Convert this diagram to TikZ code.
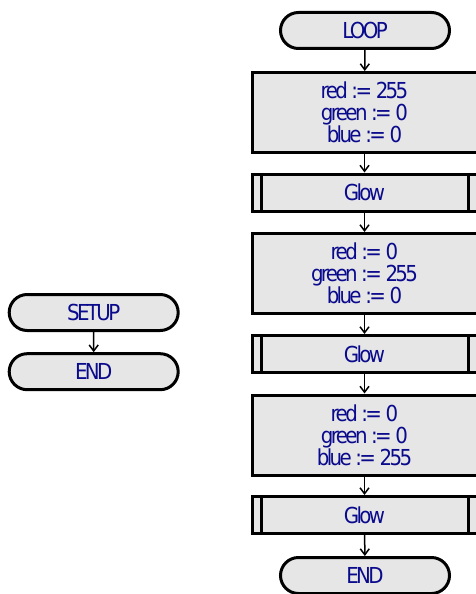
\documentclass[tikz,border=0pt]{standalone}
\usepackage{fontspec}
\setmainfont{DejaVu Sans Condensed}[LetterSpace=-12]
\usetikzlibrary{shapes.misc,arrows.meta}
\definecolor{txtblue}{RGB}{10,10,140}
\definecolor{boxfill}{RGB}{230,230,230}
\tikzset{
  every node/.style={font=\fontsize{22}{22}\selectfont, text=txtblue},
  terminal/.style={rounded rectangle, draw=black, line width=3pt, fill=boxfill,
    minimum width=169pt, minimum height=36pt, inner sep=0pt},
  process/.style={rectangle, draw=black, line width=3pt, fill=boxfill,
    minimum width=225pt, minimum height=80pt, inner sep=0pt, align=center},
  subproc/.style={rectangle, draw=black, line width=3pt, fill=boxfill,
    minimum width=225pt, minimum height=37pt, inner sep=0pt},
  flow/.style={line width=1.5pt, -{Straight Barb[length=6pt,width=9pt,line width=1.5pt]}}
}
\newcommand{\subbars}[1]{%
  \draw[line width=3pt] ([xshift=10.5pt]#1.north west) -- ([xshift=10.5pt]#1.south west);
  \draw[line width=3pt] ([xshift=-10.5pt]#1.north east) -- ([xshift=-10.5pt]#1.south east);}
\begin{document}
\begin{tikzpicture}[x=1pt,y=-1pt]
\useasboundingbox (0,0) rectangle (476,594);
% left
\node[terminal] (setup) at (93.7,312.5) {SETUP};
\node[terminal] (lend) at (93.7,371.7) {END};
\draw[flow] (setup) -- (lend);
% right
\node[terminal] (loop) at (365,30.5) {LOOP};
\node[process] (p1) at (364.5,112.5) {red :=\,255\\green :=\,0\\blue :=\,0};
\node[subproc] (g1) at (364.5,192.5) {Glow};
\node[process] (p2) at (364.5,273.5) {red :=\,0\\green :=\,255\\blue :=\,0};
\node[subproc] (g2) at (364.5,354) {Glow};
\node[process] (p3) at (364.5,435) {red :=\,0\\green :=\,0\\blue :=\,255};
\node[subproc] (g3) at (364.5,515) {Glow};
\node[terminal] (rend) at (365,575.5) {END};
\subbars{g1}\subbars{g2}\subbars{g3}
\draw[flow] (loop) -- (p1);
\draw[flow] (p1) -- (g1);
\draw[flow] (g1) -- (p2);
\draw[flow] (p2) -- (g2);
\draw[flow] (g2) -- (p3);
\draw[flow] (p3) -- (g3);
\draw[flow] (g3) -- (rend);
\end{tikzpicture}
\end{document}
